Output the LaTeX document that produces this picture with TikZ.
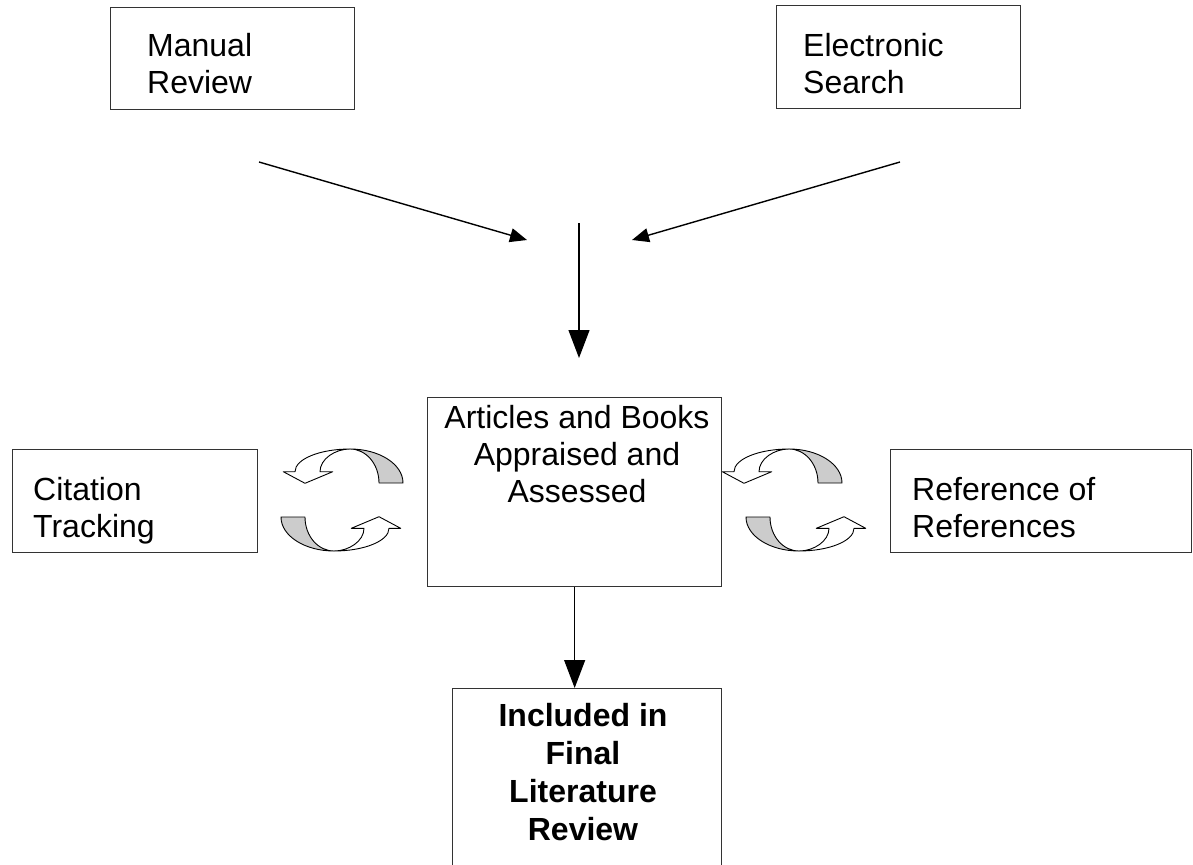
\documentclass[tikz,border=0pt]{standalone}
\usepackage{fontspec}
\setmainfont{Liberation Sans}
\usetikzlibrary{arrows.meta}
\tikzset{
  box/.style={draw=black!80, line width=1.3pt, inner sep=0pt, anchor=north west},
  lbl/.style={inner sep=0pt, font=\fontsize{32}{37}\selectfont},
  conn/.style={line width=1.4pt, -{Triangle[length=17pt,width=14pt]}},
  bigconn/.style={line width=1.2pt, -{Triangle[length=28pt,width=21pt]}},
  ribbon/.style={draw=black, line width=0.9pt, line join=round},
  pics/twistarrow/.style={code={
    \filldraw[ribbon, fill=gray!40] (29,34) -- (53,34) .. controls (53,15) and (29,0) .. (0,0)
       .. controls (16,0) and (29,15) .. (29,34) -- cycle;
    \filldraw[ribbon, fill=white] (0,0) .. controls (-30,0) and (-55,10) .. (-55,22.7)
       -- (-66.7,22.7) -- (-45,34.3) -- (-17.3,22.7) -- (-30,22.7)
       .. controls (-30,10) and (-15,0) .. (0,0) -- cycle;
  }},
}
\begin{document}
\begin{tikzpicture}[x=1pt,y=-1pt]
\useasboundingbox (0,0) rectangle (1193,864);
\clip (0,0) rectangle (1193,864);

% boxes
\node[box, minimum width=244pt, minimum height=102pt] (manual) at (110,7) {};
\node[lbl, anchor=north west, align=left] (manualt) at (147,33) {Manual\\Review};

\node[box, minimum width=244pt, minimum height=103pt] (elec) at (776,5) {};
\node[lbl, anchor=north west, align=left] (elect) at (803,33) {Electronic\\Search};

\node[box, minimum width=245pt, minimum height=103pt] (cite) at (12,449) {};
\node[lbl, anchor=north west, align=left] (citet) at (33,477) {Citation\\Tracking};

\node[box, minimum width=301pt, minimum height=103pt] (refs) at (890,449) {};
\node[lbl, anchor=north west, align=left] (refst) at (912,477) {Reference of\\References};

\node[box, minimum width=294pt, minimum height=189pt] (art) at (427,397) {};
\node[lbl, anchor=north, align=center] (artt) at (577,405) {Articles and Books\\Appraised and\\Assessed};

\node[box, minimum width=269pt, minimum height=200pt] (fin) at (452,688) {};
\node[lbl, anchor=north, align=center, font=\fontsize{32}{38}\selectfont\bfseries] (fint) at (583,703)
  {Included in\\Final\\Literature\\Review};

% connectors
\coordinate (ls) at (259,162);
\coordinate (le) at (527,240);
\coordinate (rs) at (900,162);
\coordinate (re) at (632,240);
\coordinate (vs) at (579,223);
\coordinate (ve) at (579,358);
\draw[conn] (ls) -- (le);
\draw[conn] (rs) -- (re);
\draw[bigconn] (vs) -- (ve);
\draw[bigconn] (art.south) -- (art.south |- fin.north);

% twisted circular arrows
\pic at (350,449) {twistarrow};
\pic[rotate=180] at (334,551) {twistarrow};
\pic at (789,449) {twistarrow};
\pic[rotate=180] at (799,551) {twistarrow};
\end{tikzpicture}
\end{document}
